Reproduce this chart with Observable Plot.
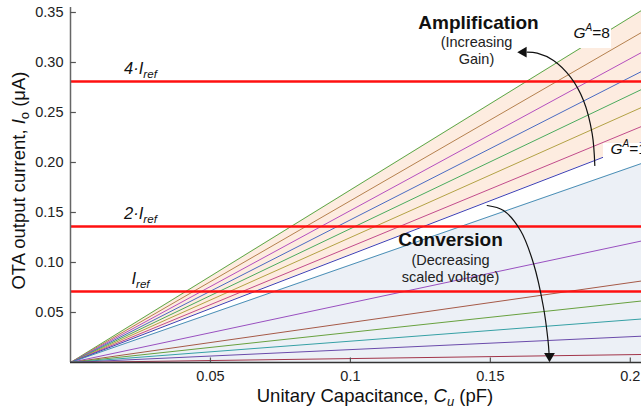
<!DOCTYPE html>
<html><head><meta charset="utf-8">
<script src="https://cdn.jsdelivr.net/npm/d3@7"></script>
<script src="https://cdn.jsdelivr.net/npm/@observablehq/plot@0.6"></script>
<style>
html,body{margin:0;padding:0;background:#fff;}
#chart{width:641px;height:414px;overflow:hidden;}
text{white-space:pre;}
</style></head><body><div id="chart"></div>
<script>
// ---- data ----
const cuEnd = 0.204;                       // Cu (pF) at the right edge of the plot
const ampGains = [8, 7, 6, 5, 4, 3, 2, 1];  // amplification family, top to bottom
const ampIo = [0.352, 0.330, 0.310, 0.291, 0.273, 0.255, 0.236, 0.220]; // Io (uA) at cuEnd
const ampColors = ["#5aaa4a", "#b5814f", "#b54fbf", "#4a6bc2", "#4bab5e", "#b3a245", "#c24c8c", "#3e3fb3"];
const convIo = [0.199, 0.1215, 0.0815, 0.0615, 0.0435, 0.0263, 0.008]; // conversion family at cuEnd
const convColors = ["#4a8fb6", "#9950c0", "#a65a48", "#68a13f", "#36a1a6", "#6a4bab", "#a2354a"];
const refLevels = [0.281, 0.136, 0.0710];
const refLabels = ["4·I_{ref}", "2·I_{ref}", "I_{ref}"];
const yTicks = [0.05, 0.10, 0.15, 0.20, 0.25, 0.30, 0.35];
const xTicks = [0.05, 0.1, 0.15, 0.2];
const xTitle = "Unitary Capacitance, *C*_{*u*} (pF)";
const yTitle = "OTA output current, *I*_{o} (μA)";
// annotations (data coordinates)
const ampArrow = [[0.18732, 0.197], [0.18639, 0.2287], [0.18328, 0.262], [0.17864, 0.2853], [0.17256, 0.302], [0.16674, 0.3093], [0.16317, 0.3103]];
const ampHead = [[0.16184, 0.3103]];
const convArrow = [[0.14885, 0.157], [0.1547, 0.152], [0.16077, 0.132], [0.16542, 0.099], [0.16899, 0.055], [0.1706, 0.022], [0.17095, 0.010]];
const convHead = [[0.17113, 0.0065]];
const titles = [
  {x: 0.14577, y: 0.334, t: "Amplification", bold: true},
  {x: 0.14505, y: 0.316, t: "(Increasing", bold: false},
  {x: 0.14505, y: 0.299, t: "Gain)", bold: false},
  {x: 0.13576, y: 0.117, t: "Conversion", bold: true},
  {x: 0.13576, y: 0.098, t: "(Decreasing", bold: false},
  {x: 0.13576, y: 0.081, t: "scaled voltage)", bold: false}
];
const gainTags = [
  {x: 0.1797, y: 0.325, t: "*G*^{*A*}=" + ampGains[0]},
  {x: 0.19293, y: 0.209, t: "*G*^{*A*}=" + ampGains[7]}
];
const tagBoxes = [
  {x1: 0.17721, x2: 0.19328, y1: 0.314, y2: 0.344},
  {x1: 0.19043, x2: 0.204, y1: 0.201, y2: 0.219}
];

// ---- derived tables ----
const series = (vals, cols) => vals.map((v, i) => ({
  color: cols[i],
  pts: [{Cu: 0, Io: 0}, {Cu: cuEnd, Io: v}]
}));
const ampSeries = series(ampIo, ampColors);
const convSeries = series(convIo, convColors);
const ampBand = [{Cu: 0, lo: 0, hi: 0}, {Cu: cuEnd, lo: ampIo[ampIo.length - 1], hi: ampIo[0]}];
const convBand = [{Cu: 0, lo: 0, hi: 0}, {Cu: cuEnd, lo: 0, hi: convIo[0]}];
const refData = refLevels.map((v, i) => ({y: v, t: refLabels[i]}));

const font = "'Liberation Sans', Arial, Helvetica, sans-serif";

const marks = [
  Plot.areaY(ampBand, {x: "Cu", y1: "lo", y2: "hi", fill: "#fdece0"}),
  Plot.areaY(convBand, {x: "Cu", y1: "lo", y2: "hi", fill: "#ecf0f6"}),
  ...ampSeries.map(s => Plot.line(s.pts, {x: "Cu", y: "Io", stroke: s.color, strokeWidth: 1})),
  ...convSeries.map(s => Plot.line(s.pts, {x: "Cu", y: "Io", stroke: s.color, strokeWidth: 1})),
  Plot.rect(tagBoxes, {x1: "x1", x2: "x2", y1: "y1", y2: "y2", fill: "white"}),
  Plot.ruleY(refData, {y: "y", stroke: "#ff1010", strokeWidth: 2.6}),
  Plot.text(refData, {x: 0.025, y: "y", text: "t", dy: -8, lineAnchor: "bottom", fontSize: 16.5, fontStyle: "italic", fill: "#111"}),
  // axes
  Plot.ruleX([0], {stroke: "#666", strokeWidth: 1.5}),
  Plot.ruleY([0], {stroke: "#333", strokeWidth: 1.5}),
  Plot.ruleY(yTicks, {x1: 0, x2: 0.0021, stroke: "#555", strokeWidth: 1.2}),
  Plot.ruleX(xTicks, {y1: 0, y2: 0.0045, stroke: "#555", strokeWidth: 1.2}),
  Plot.axisY(yTicks, {anchor: "left", tickSize: 0, tickPadding: 7, tickFormat: d3.format(".2f"), fontSize: 14.5, label: null, fill: "#222"}),
  Plot.axisX(xTicks, {anchor: "bottom", tickSize: 0, tickPadding: 8, tickFormat: d => String(d), fontSize: 14.5, label: null, fill: "#222"}),
  Plot.text([xTitle], {text: d => d, frameAnchor: "bottom", textAnchor: "middle", dx: 19, dy: 39, lineAnchor: "bottom", fontSize: 18.5, fill: "#111"}),
  Plot.text([yTitle], {text: d => d, frameAnchor: "left", textAnchor: "middle", dx: -46, dy: -4.5, rotate: -90, lineAnchor: "bottom", fontSize: 18.5, fill: "#111"}),
  // annotations
  Plot.text(titles.filter(d => d.bold), {x: "x", y: "y", text: "t", lineAnchor: "bottom", fontSize: 19, fontWeight: "bold", fill: "#111"}),
  Plot.text(titles.filter(d => !d.bold), {x: "x", y: "y", text: "t", lineAnchor: "bottom", fontSize: 14.5, fill: "#222"}),
  Plot.text(gainTags, {x: "x", y: "y", text: "t", textAnchor: "start", lineAnchor: "bottom", fontSize: 15.5, fill: "#111"}),
  Plot.line(ampArrow, {x: d => d[0], y: d => d[1], curve: "catmull-rom", stroke: "#111", strokeWidth: 1.2}),
  Plot.dot(ampHead, {x: d => d[0], y: d => d[1], symbol: "triangle", r: 4, fill: "#111", stroke: null, rotate: -90}),
  Plot.line(convArrow, {x: d => d[0], y: d => d[1], curve: "catmull-rom", stroke: "#111", strokeWidth: 1.2}),
  Plot.dot(convHead, {x: d => d[0], y: d => d[1], symbol: "triangle", r: 4, fill: "#111", stroke: null, rotate: 180})
];

const svg = Plot.plot({
  width: 641, height: 414,
  marginLeft: 70, marginRight: 0, marginTop: 7, marginBottom: 52,
  x: {domain: [0, cuEnd]},
  y: {domain: [0, 0.355]},
  style: {fontFamily: font, background: "white", color: "#222", overflow: "visible"},
  marks
});
document.getElementById("chart").appendChild(svg);

// rich text: *italic*, _{sub}, ^{sup}
const markup = /(\*[^*]+\*|_\{[^}]*\}|\^\{[^}]*\})/;
function richify(el) {
  const s = el.textContent;
  const base = parseFloat(getComputedStyle(el).fontSize) || 16;
  while (el.firstChild) el.removeChild(el.firstChild);
  const parts = s.split(markup).filter(p => p);
  let shift = 0;
  for (const p of parts) {
    const t = document.createElementNS("http://www.w3.org/2000/svg", "tspan");
    let txt = p, scale = 1, newShift = 0, italic = false;
    if (p.startsWith("_{")) { txt = p.slice(2, -1); scale = 0.7; newShift = base * 0.25; }
    else if (p.startsWith("^{")) { txt = p.slice(2, -1); scale = 0.65; newShift = -base * 0.42; }
    if (txt.length > 2 && txt.startsWith("*") && txt.endsWith("*")) { txt = txt.slice(1, -1); italic = true; }
    if (scale !== 1) t.setAttribute("font-size", (base * scale).toFixed(2));
    if (italic) t.setAttribute("font-style", "italic");
    const dy = newShift - shift;
    if (dy) t.setAttribute("dy", dy.toFixed(2));
    shift = newShift;
    t.textContent = txt;
    el.appendChild(t);
  }
}
Array.from(svg.querySelectorAll("text"))
  .filter(el => !el.querySelector("text") && markup.test(el.textContent))
  .forEach(richify);
</script></body></html>
